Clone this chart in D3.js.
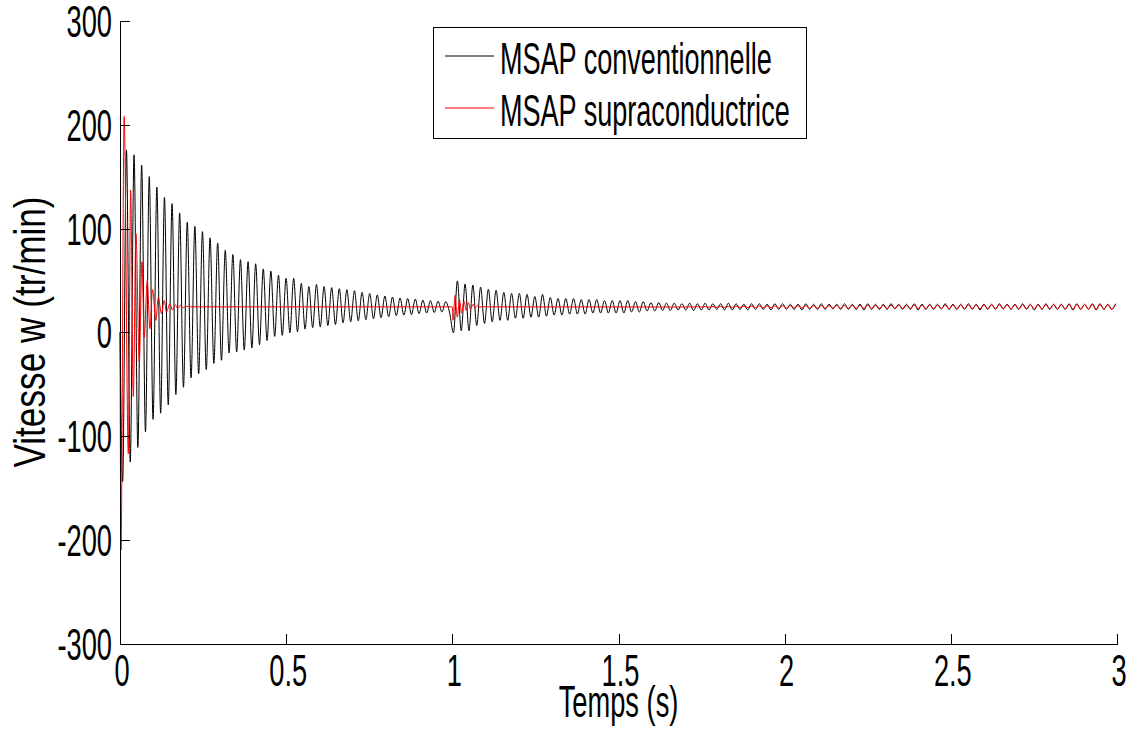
<!DOCTYPE html>
<html><head><meta charset="utf-8">
<script src="https://cdn.jsdelivr.net/npm/d3@7"></script>
<style>
html,body{margin:0;padding:0;background:#fff;}
svg text{font-family:"Liberation Sans","DejaVu Sans",sans-serif;fill:#000;}
</style></head><body>
<svg id="chart" width="1135" height="740"></svg>
<script>
// ---------- labels ----------
const xTicks = [0, 0.5, 1, 1.5, 2, 2.5, 3];
const xTickLabels = ["0", "0.5", "1", "1.5", "2", "2.5", "3"];
const yTicks = [-300, -200, -100, 0, 100, 200, 300];
const yTickLabels = ["-300", "-200", "-100", "0", "100", "200", "300"];
const seriesNames = ["MSAP conventionnelle", "MSAP supraconductrice"];
const xTitle = "Temps (s)";
const yTitle = "Vitesse w (tr/min)";

// ---------- black series (MSAP conventionnelle), read extrema ----------
// segment A : start-up (0 .. 1 s)
const blackStart = [0, 0];                 // [t, value]
const blackA_firstTime = 0.008;            // time of first trough (s)
const blackA_halfPeriod = 0.011435;        // half oscillation period (s)
const blackA_troughs = [-144, -125, -111, -96, -84, -78, -70, -60, -53, -44,
  -40, -36, -30, -27, -20, -19, -17, -15, -12, -8,
  -4, -3, -0.5, 0.5, 3, 4.5, 5, 6.5, 7.5, 9,
  10, 11, 12, 13, 14, 15, 16, 16.5, 17, 18,
  18.5, 19, 19.5, 19.5];
const blackA_peaks = [175.5, 171, 161, 150, 140, 130, 124, 115, 106, 102,
  97, 91, 86, 79, 75, 70, 68, 66, 61, 59,
  55, 52, 52, 47, 44, 46, 44, 43, 42, 41,
  40, 38.5, 37.5, 36, 35, 34, 33, 32.5, 32, 31,
  30.5, 30, 29.5];
// segment B : load step (1 .. 3 s)
const blackB_firstTime = 1.0035;
const blackB_halfPeriod = 0.01165;
const blackB_troughs = [-0.5, 1.5, 1.5, 6.5, 8.5, 10, 11.5, 11.5, 13.5, 13.5,
  14.5, 14.5, 15.5, 16.5, 16.5, 17.5, 17.5, 17.5, 18.5, 18.5,
  18.5, 18.5, 18.5, 19.5, 19.5, 20.5, 20.5, 21, 21, 21.5,
  21.5, 21, 21.5, 21.5, 22, 21.5, 21.5, 22, 21.5, 22,
  22, 21.5, 22, 22, 22, 21.5, 22, 22, 22, 22.5,
  22, 22, 22, 21.5, 22, 22, 22, 22.5, 22, 22,
  21.5, 22, 22, 22.5, 22, 22, 22, 22, 21.5, 22,
  22, 22.5, 22, 22, 22, 21.5, 22, 22, 22, 22,
  21.5, 22, 22, 21.5, 22, 22];
const blackB_peaks = [49.5, 46.5, 45.5, 43.5, 41.5, 40.5, 38.5, 37.5, 37.5, 36.5,
  34.5, 36.5, 33.5, 32.5, 32.5, 32.5, 31.5, 31.5, 31.5, 30.5,
  30.5, 30.5, 30.5, 29.5, 29.5, 28.5, 28.5, 28, 28, 27.5,
  28, 27.5, 28, 27.5, 27.5, 28, 27.5, 27, 27.5, 27.5,
  27, 27.5, 27.5, 27, 27, 27.5, 27, 27.5, 27, 27,
  27.5, 27, 27, 27.5, 27, 27, 27.5, 27, 27, 27.5,
  27, 27, 27, 27.5, 27, 27, 27.5, 27, 27, 27,
  27.5, 27, 27, 27.5, 27, 27, 27.5, 27, 27, 27.5,
  27.5, 27, 27.5, 27.5, 27, 27.5];

// ---------- red series (MSAP supraconductrice), read points ----------
const redTimes = [0, 0.003, 0.0125, 0.025, 0.032, 0.040, 0.048, 0.058, 0.066, 0.073,
  0.082, 0.090, 0.098, 0.108, 0.115, 0.125, 0.133, 0.140, 0.150, 0.158,
  0.166, 0.174, 0.182, 0.19, 0.2, 0.21,
  1.0, 1.002, 1.008, 1.015, 1.0215, 1.028, 1.035, 1.042, 1.048, 1.055,
  1.062, 1.069, 1.076, 1.083, 1.09, 1.1];
const redValues = [0, -210, 208, -117, 137, -62, 95, -29, 68, -5,
  50, 3.5, 41, 11.5, 33.5, 18, 30.5, 19.5, 27.5, 21.5,
  26.5, 23, 26, 23.5, 25, 24.5,
  24.5, 11.5, 35.5, 14.5, 31.5, 18.5, 30, 21, 28.5, 22.5,
  27, 23.5, 26, 24, 25, 24.5];
// late small ripple of the red curve, in step with the black oscillation (cycle index of segment B)
const redTailStartCycle = 30;
const redTail_troughs = [24.3, 24.2, 24.2, 24.1, 24.0, 24.0, 23.9, 23.9, 23.8, 23.8,
  23.7, 23.6, 23.6, 23.5, 23.5, 23.4, 23.4, 23.3, 23.3, 23.2,
  23.2, 23.1, 23.1, 23.0, 23.0, 23.0, 22.9, 22.9, 22.9, 22.8,
  22.8, 22.8, 22.7, 22.7, 22.7, 22.6, 22.6, 22.6, 22.6, 22.5,
  22.5, 22.5, 22.5, 22.4, 22.4, 22.4, 22.4, 22.4, 22.3, 22.3,
  22.3, 22.3, 22.3, 22.3, 22.2, 22.2];
const redTail_peaks = [24.7, 24.8, 24.8, 24.9, 25.0, 25.0, 25.1, 25.1, 25.2, 25.3,
  25.3, 25.4, 25.4, 25.5, 25.5, 25.6, 25.6, 25.7, 25.7, 25.8,
  25.8, 25.9, 25.9, 26.0, 26.0, 26.0, 26.1, 26.1, 26.1, 26.2,
  26.2, 26.2, 26.3, 26.3, 26.3, 26.4, 26.4, 26.4, 26.4, 26.5,
  26.5, 26.5, 26.5, 26.6, 26.6, 26.6, 26.6, 26.6, 26.7, 26.7,
  26.7, 26.7, 26.7, 26.7, 26.8, 26.8];

// ---------- build point lists ----------
function extrema(t0, h, troughs, peaks, fromCycle) {
  const pts = [];
  const start = fromCycle || 0;
  for (let i = start; i < troughs.length; i++) {
    pts.push([t0 + 2 * i * h, troughs[i]]);
    if (i < peaks.length) pts.push([t0 + (2 * i + 1) * h, peaks[i]]);
  }
  return pts;
}
const blackPts = [blackStart]
  .concat(extrema(blackA_firstTime, blackA_halfPeriod, blackA_troughs, blackA_peaks))
  .concat(extrema(blackB_firstTime, blackB_halfPeriod, blackB_troughs, blackB_peaks));

const redPts = redTimes.map((t, i) => [t, redValues[i]]);
{
  const n = Math.min(redTail_troughs.length, redTail_peaks.length);
  for (let k = 0; k < n; k++) {
    const c = redTailStartCycle + k;
    redPts.push([blackB_firstTime + 2 * c * blackB_halfPeriod, redTail_troughs[k]]);
    redPts.push([blackB_firstTime + (2 * c + 1) * blackB_halfPeriod, redTail_peaks[k]]);
  }
}

// ---------- drawing ----------
const svg = d3.select("#chart");
const plot = {left: 120, right: 1117, top: 21, bottom: 643.5};
const x = d3.scaleLinear().domain([0, 3]).range([plot.left, plot.right]);
const y = d3.scaleLinear().domain([-300, 300]).range([plot.bottom, plot.top]);

const FS = 44, SX = 0.62;

const line = d3.line().x(d => x(d[0])).y(d => y(d[1])).curve(d3.curveMonotoneX);

svg.append("path").datum(blackPts).attr("d", line)
  .attr("fill", "none").attr("stroke", "#000").attr("stroke-width", 1);
svg.append("path").datum(redPts).attr("d", line)
  .attr("fill", "none").attr("stroke", "#ff0000").attr("stroke-width", 1);

// axes (ticks inward, only left & bottom lines)
const xAxis = d3.axisBottom(x).tickValues(xTicks).tickSizeInner(-10).tickSizeOuter(0).tickFormat("");
const yAxis = d3.axisLeft(y).tickValues(yTicks).tickSizeInner(-10).tickSizeOuter(0).tickFormat("");
const gx = svg.append("g").attr("transform", `translate(0,${plot.bottom})`).call(xAxis);
const gy = svg.append("g").attr("transform", `translate(${plot.left},0)`).call(yAxis);
[gx, gy].forEach(g => {
  g.selectAll("path,line").attr("stroke", "#000").attr("stroke-width", 1).attr("shape-rendering", "crispEdges");
});

// tick labels
yTicks.forEach((v, i) => {
  svg.append("text")
    .attr("transform", `translate(112,${y(v) + 16}) scale(${SX},1)`)
    .attr("text-anchor", "end").attr("font-size", FS)
    .text(yTickLabels[i]);
});
xTicks.forEach((v, i) => {
  svg.append("text")
    .attr("transform", `translate(${x(v) + 2},686) scale(${SX},1)`)
    .attr("text-anchor", "middle").attr("font-size", FS)
    .text(xTickLabels[i]);
});

// axis titles
svg.append("text")
  .attr("transform", `translate(${x(1.5)},717) scale(${SX},1)`)
  .attr("text-anchor", "middle").attr("font-size", FS)
  .text(xTitle);
svg.append("text")
  .attr("transform", `translate(45,332) rotate(-90) scale(0.8,1)`)
  .attr("text-anchor", "middle").attr("font-size", FS)
  .text(yTitle);

// legend
const lg = svg.append("g");
lg.append("rect").attr("x", 433.5).attr("y", 27.5).attr("width", 373).attr("height", 111)
  .attr("fill", "#fff").attr("stroke", "#000").attr("stroke-width", 1);
const legColors = ["#000", "#ff0000"];
seriesNames.forEach((name, i) => {
  const by = 74 + i * 52;
  lg.append("line").attr("x1", 445).attr("x2", 494).attr("y1", by - 18).attr("y2", by - 18)
    .attr("stroke", legColors[i]).attr("stroke-width", 1);
  lg.append("text").attr("transform", `translate(500,${by}) scale(0.615,1)`)
    .attr("font-size", FS).text(name);
});
</script>
</body></html>
